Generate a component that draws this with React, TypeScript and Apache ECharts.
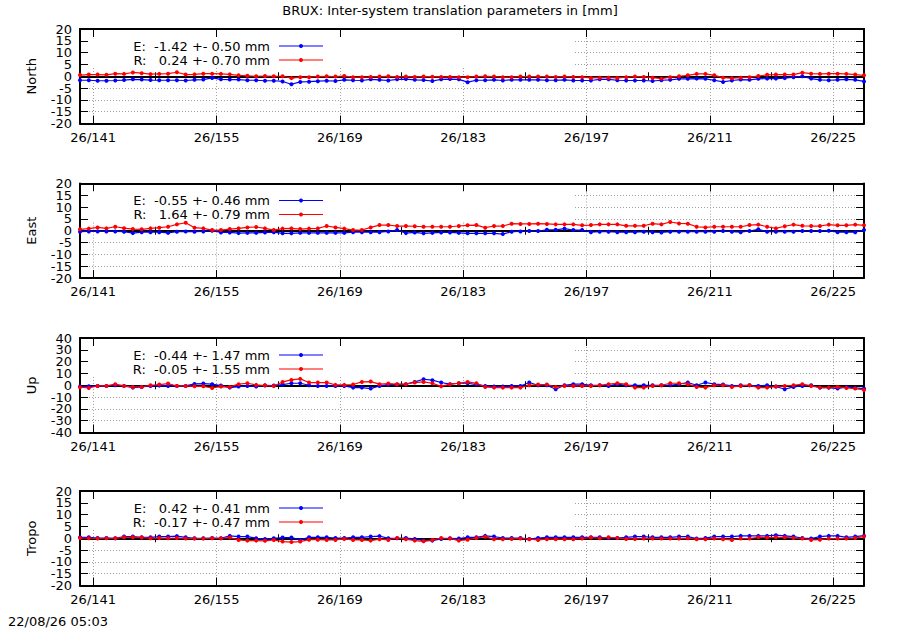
import React, { useEffect, useRef } from 'react';
import * as echarts from 'echarts';

const TITLE = 'BRUX: Inter-system translation parameters in [mm]';
const TIMESTAMP = '22/08/26 05:03';
const YEAR = '26';
const FONT = 'DejaVu Sans';

// daily solutions, noon of each day of year
const FIRST_DAY = 139.5;
const LAST_DAY = 228.5;
const DAYS = Array.from({ length: 90 }, (_, i) => FIRST_DAY + i);
const MAJOR_DAYS = [141, 155, 169, 183, 197, 211, 225];
const MINOR_DAYS = [148, 162, 176, 190, 204, 218];

const PANEL_NAMES = ['North', 'East', 'Up', 'Tropo'];
const TICKS_20 = [-20, -15, -10, -5, 0, 5, 10, 15, 20];
const TICKS_40 = [-40, -30, -20, -10, 0, 10, 20, 30, 40];
const PANEL_TICKS = [TICKS_20, TICKS_20, TICKS_40, TICKS_20];

const E_LABELS = ['E:  -1.42 +- 0.50 mm', 'E:  -0.55 +- 0.46 mm', 'E:  -0.44 +- 1.47 mm', 'E:   0.42 +- 0.41 mm'];
const R_LABELS = ['R:   0.24 +- 0.70 mm', 'R:   1.64 +- 0.79 mm', 'R:  -0.05 +- 1.55 mm', 'R:  -0.17 +- 0.47 mm'];

const NORTH_E = [
  -1.7, -1.7, -1.9, -1.9, -1.8, -1.6, -1.3, -1.4, -1.6, -1.7, -1.7, -1.7, -1.8, -1.5, -1.4, -0.7, -1.3, -1.4, -1.4, -1.7,
  -1.7, -1.9, -1.9, -2.2, -3.4, -2.4, -2.3, -2.1, -1.9, -2.0, -1.5, -1.7, -1.8, -1.3, -1.5, -1.8, -1.3, -1.2, -1.5, -1.6,
  -2.0, -1.3, -1.2, -1.3, -2.5, -1.7, -1.7, -1.5, -1.8, -1.5, -1.5, -1.5, -1.5, -1.7, -1.7, -1.5, -1.8, -1.8, -1.8, -1.3,
  -1.3, -1.7, -1.8, -1.8, -1.8, -2.0, -1.7, -1.5, -1.1, -1.1, -1.0, -1.1, -1.7, -2.4, -1.8, -1.4, -1.5, -1.1, -1.0, -1.0,
  -0.8, -0.4, 0.0, -1.0, -1.5, -1.7, -1.5, -1.3, -1.5, -2.2,
];
const NORTH_R = [
  0.5, 0.7, 0.7, 0.6, 1.1, 1.0, 1.6, 1.3, 0.9, 1.0, 1.1, 1.7, 0.7, 0.8, 1.1, 1.1, 1.0, 0.8, 0.4, 0.2,
  0.0, 0.1, 0.0, 0.0, -0.8, -0.4, -0.4, -0.1, 0.0, -0.1, 0.1, -0.4, -0.4, -0.3, -0.1, 0.0, -0.3, -0.1, -0.3, -0.1,
  -0.2, -0.3, -0.3, -0.4, -0.4, -0.1, 0.0, -0.1, -0.4, -0.4, -0.1, -0.1, -0.1, -0.1, -0.3, -0.1, -0.3, -0.4, -0.7, -0.6,
  -0.6, -0.7, -0.4, -0.1, -0.3, -0.6, -1.0, -0.4, 0.0, 0.4, 1.0, 1.0, 0.4, -0.6, -0.8, -0.6, -0.4, 0.1, 0.6, 0.7,
  0.7, 0.7, 1.5, 1.1, 1.0, 1.1, 1.1, 1.0, 0.7, 0.4,
];
const EAST_E = [
  -0.4, -0.3, -0.3, -0.3, -0.3, -0.4, -1.0, -0.6, -0.6, -0.6, -0.9, -0.4, -0.3, -0.4, -0.3, 0.0, -0.7, -0.7, -1.0, -0.9,
  -0.9, -0.7, -0.6, -1.1, -1.1, -0.9, -0.9, -0.9, -0.9, -0.9, -0.9, -0.6, -0.6, -0.6, -0.6, -0.3, 0.3, -1.0, -0.7, -1.1,
  -0.9, -0.7, -0.7, -0.9, -1.1, -1.1, -1.1, -1.1, -1.4, -0.4, -0.3, -0.1, -0.1, 0.4, 0.4, 0.9, 0.3, 0.3, -0.6, -0.4,
  -0.4, -0.6, -0.6, -0.6, -0.4, -0.6, -0.7, -0.4, -0.4, -0.4, -0.4, -0.4, -0.4, -0.1, -0.4, -0.6, -0.1, 0.6, -0.4, -0.4,
  -0.4, -0.4, -0.1, -0.1, -0.1, 0.0, -0.6, -0.6, -0.6, 0.3,
];
const EAST_R = [
  0.6, 0.9, 1.4, 1.0, 1.7, 1.1, 0.7, 0.6, 1.0, 1.3, 1.7, 2.7, 3.4, 1.3, 1.0, 0.3, 0.3, 0.7, 1.0, 1.4,
  1.6, 1.0, 0.3, 0.9, 1.0, 0.7, 0.9, 1.0, 2.0, 1.4, 0.9, 0.3, 0.3, 1.4, 2.4, 2.4, 2.0, 2.0, 1.9, 1.7,
  1.7, 1.7, 1.7, 2.0, 2.3, 2.4, 1.3, 2.0, 2.0, 3.0, 2.9, 2.9, 3.0, 2.9, 2.7, 2.7, 2.7, 2.3, 2.4, 2.7,
  2.7, 2.7, 2.1, 2.1, 2.1, 3.0, 2.7, 3.7, 3.1, 3.0, 1.7, 1.4, 1.7, 1.7, 1.7, 1.7, 2.4, 2.6, 1.7, 1.0,
  1.9, 2.6, 2.1, 2.0, 2.0, 2.6, 2.3, 2.3, 2.6, 2.3,
];
const UP_E = [
  -1.1, -0.9, -0.6, -0.6, 0.0, -0.6, -2.0, -1.4, -0.6, -0.3, -0.6, -0.6, -0.6, 1.1, 1.4, 0.9, -0.3, -2.0, -1.1, -0.6,
  -1.1, 0.0, -0.3, 0.6, 1.7, 1.7, 0.0, -0.6, -0.6, -0.6, -0.6, -2.0, -2.0, -2.8, -0.6, 0.6, 0.6, 0.9, 2.8, 5.1,
  4.3, 2.3, 0.9, 1.7, 1.7, 0.6, -0.6, -1.1, -1.1, -0.6, -0.6, 2.3, 0.0, 0.0, -3.4, 0.0, 0.9, 0.9, 0.0, 0.0,
  -0.6, 0.9, 0.0, 0.0, 0.0, 0.0, 0.0, 0.0, 0.9, 2.3, 0.0, 2.3, 0.9, 0.6, -0.6, 0.0, 0.0, -0.6, 0.0, -1.1,
  -3.4, -1.4, -0.6, 0.0, -2.0, -2.0, -2.8, -1.4, -2.3, -2.8,
];
const UP_R = [
  -1.7, -2.3, -0.6, -0.6, 0.9, -0.6, -1.4, -1.4, 0.0, 0.6, 1.4, -0.6, -0.6, -0.9, -0.9, -2.3, -1.1, -1.4, 0.9, 1.7,
  0.3, -0.3, -0.6, 2.8, 4.5, 5.4, 2.3, 2.3, 2.3, 0.3, 0.3, 0.6, 2.8, 3.1, 0.9, 1.4, 0.9, 0.9, 2.3, 2.8,
  1.7, -0.9, 0.9, 1.7, 2.8, 1.7, -1.4, -2.0, -2.0, -2.0, -2.0, 0.0, 0.6, 0.6, -1.4, -0.6, -0.6, -0.6, -0.6, 0.0,
  0.9, 1.7, 0.9, -2.0, -2.0, -0.6, 0.0, 1.7, 1.7, 0.9, -1.4, -2.0, 0.0, 0.0, -1.4, -0.6, 0.0, -2.0, -2.0, -1.1,
  -0.6, 0.0, 0.9, -0.6, -2.0, -2.0, -1.4, -2.3, -2.8, -4.0,
];
const TROPO_E = [
  0.4, 0.4, 0.1, 0.1, 0.0, 0.7, 0.7, 0.4, 0.4, 0.7, 0.7, 0.9, 0.4, 0.0, 0.0, 0.1, 0.0, 1.0, 0.7, 0.7,
  0.0, -0.3, 0.0, 0.3, 0.3, -0.7, 0.4, 0.4, 0.4, 0.1, 0.1, 0.4, 0.4, 0.7, 0.9, 0.0, 0.0, 0.1, -0.3, -1.0,
  -1.0, -0.3, 0.0, -0.1, 0.4, 0.4, 1.0, 0.7, 0.1, 0.1, 0.1, -0.3, 0.1, 0.4, 0.4, 0.4, 0.4, 0.4, 0.4, 0.4,
  0.1, 0.1, 0.4, 0.7, 0.7, 0.4, 0.4, 0.4, 0.7, 0.7, -0.1, 0.1, 0.7, 0.7, 0.7, 1.0, 1.0, 1.0, 1.0, 1.3,
  1.0, 0.7, 0.1, -0.1, 0.7, 1.0, 1.0, 0.4, 0.7, 1.1,
];
const TROPO_R = [
  0.1, 0.0, -0.1, 0.0, 0.0, 0.4, 0.4, 0.3, 0.0, 0.1, 0.0, 0.1, -0.1, -0.1, -0.1, 0.0, 0.0, 0.3, -0.7, -1.0,
  -1.0, -1.1, -0.7, -1.4, -1.6, -1.4, -0.6, -0.6, -0.7, -0.7, -0.3, -0.7, -0.7, -1.0, -0.4, -0.7, 0.1, -0.4, -1.0, -1.3,
  -0.7, 0.1, -0.1, -1.0, -0.6, 0.1, 0.6, -0.4, -0.4, -0.3, -0.1, -0.4, -0.7, -0.4, -0.4, -0.4, -0.4, -0.1, 0.3, 0.0,
  0.4, 0.1, -0.3, -0.3, -0.1, -0.1, -0.1, -0.1, -0.1, 0.0, -0.4, -0.4, -0.1, -0.4, -0.7, -0.1, -0.1, 0.4, 0.3, 0.4,
  0.4, 0.1, -0.1, -0.7, -0.6, -0.1, -0.1, -0.1, 0.1, 0.7,
];

const E_SERIES = [NORTH_E, EAST_E, UP_E, TROPO_E];
const R_SERIES = [NORTH_R, EAST_R, UP_R, TROPO_R];

const E_COLOR = '#0000ff';
const R_COLOR = '#ff0000';

// layout of the four plot boxes
const PLOT_LEFT = 80;
const PLOT_WIDTH = 784;
const PANEL_TOPS = [29, 183.5, 338, 491];
const PANEL_HEIGHT = 94.5;

const App: React.FC = () => {
  const chartRef = useRef<HTMLDivElement>(null);

  useEffect(() => {
    if (!chartRef.current) return;
    const chart = echarts.init(chartRef.current, undefined, { renderer: 'svg' });

    const gridLine = { show: true, lineStyle: { color: '#a0a0a0', width: 1, type: [1, 2] } };
    const border = { show: true, onZero: false, lineStyle: { color: '#000', width: 2 } };
    const tickStyle = { color: '#000', width: 1 };
    const labelStyle = { color: '#000', fontSize: 13, fontFamily: FONT };

    const grids: any[] = [];
    const xAxes: any[] = [];
    const yAxes: any[] = [];
    const series: any[] = [];
    const graphics: any[] = [];

    PANEL_NAMES.forEach((name, p) => {
      const top = PANEL_TOPS[p];
      const ticks = PANEL_TICKS[p];
      // labels are packed tighter than ECharts allows on one axis, so split them over two
      const evenTicks = ticks.filter((_, i) => i % 2 === 0);
      const oddTicks = ticks.filter((_, i) => i % 2 === 1);
      grids.push({ left: PLOT_LEFT, top, width: PLOT_WIDTH, height: PANEL_HEIGHT, outerBoundsMode: 'none' });

      const xBase = { type: 'value', gridIndex: p, min: FIRST_DAY, max: LAST_DAY };
      // bottom: major ticks with labels and grid
      xAxes.push({
        ...xBase,
        position: 'bottom',
        axisLine: border,
        axisTick: { show: true, inside: true, length: 8, customValues: MAJOR_DAYS, lineStyle: tickStyle },
        axisLabel: {
          show: true, customValues: MAJOR_DAYS, formatter: (v: number) => `${YEAR}/${v}`,
          ...labelStyle, margin: 7,
        },
        splitLine: gridLine,
      });
      // bottom minor ticks
      xAxes.push({
        ...xBase,
        position: 'bottom',
        axisLine: { show: false },
        axisTick: { show: true, inside: true, length: 4, customValues: MINOR_DAYS, lineStyle: tickStyle },
        axisLabel: { show: false },
        splitLine: { show: false },
      });
      // mirrored top ticks
      xAxes.push({
        ...xBase,
        position: 'top',
        axisLine: border,
        axisTick: { show: true, inside: true, length: 8, customValues: MAJOR_DAYS, lineStyle: tickStyle },
        axisLabel: { show: false },
        splitLine: { show: false },
      });
      xAxes.push({
        ...xBase,
        position: 'top',
        axisLine: { show: false },
        axisTick: { show: true, inside: true, length: 4, customValues: MINOR_DAYS, lineStyle: tickStyle },
        axisLabel: { show: false },
        splitLine: { show: false },
      });

      const yBase = { type: 'value', gridIndex: p, min: ticks[0], max: ticks[ticks.length - 1] };
      yAxes.push({
        ...yBase,
        position: 'left',
        name,
        nameLocation: 'middle',
        nameRotate: 90,
        nameGap: 42,
        nameTextStyle: labelStyle,
        axisLine: border,
        axisTick: { show: true, inside: true, length: 8, customValues: ticks, lineStyle: tickStyle },
        axisLabel: {
          customValues: evenTicks, ...labelStyle, margin: 8,
          showMinLabel: true, showMaxLabel: true, hideOverlap: false,
        },
        splitLine: gridLine,
      });
      yAxes.push({
        ...yBase,
        position: 'right',
        axisLine: border,
        axisTick: { show: true, inside: true, length: 8, customValues: ticks, lineStyle: tickStyle },
        axisLabel: { show: false },
        splitLine: { show: false },
      });
      yAxes.push({
        ...yBase,
        position: 'left',
        axisLine: { show: false },
        axisTick: { show: false, customValues: oddTicks },
        axisLabel: { customValues: oddTicks, ...labelStyle, margin: 8, hideOverlap: false },
        splitLine: { show: false },
      });

      const common = {
        type: 'line',
        xAxisIndex: p * 4,
        yAxisIndex: p * 3,
        symbol: 'circle',
        symbolSize: 4,
        showSymbol: true,
        animation: false,
      };
      series.push({
        ...common,
        name: E_LABELS[p],
        data: DAYS.map((d, i) => [d, E_SERIES[p][i]]),
        lineStyle: { color: E_COLOR, width: 1.2 },
        itemStyle: { color: E_COLOR },
        markLine: {
          silent: true,
          z: 1,
          symbol: ['none', 'none'],
          label: { show: false },
          lineStyle: { color: '#000', width: 2, type: 'solid' },
          data: [{ yAxis: 0 }],
        },
      });
      series.push({
        ...common,
        name: R_LABELS[p],
        data: DAYS.map((d, i) => [d, R_SERIES[p][i]]),
        lineStyle: { color: R_COLOR, width: 1.2 },
        itemStyle: { color: R_COLOR },
      });

      // opaque key box, like gnuplot's
      graphics.push({
        type: 'rect', z: 1,
        shape: { x: PLOT_LEFT + 9, y: top + 8, width: 484, height: 30 },
        style: { fill: '#fff' },
      });
      [E_LABELS[p], R_LABELS[p]].forEach((label, k) => {
        const color = k === 0 ? E_COLOR : R_COLOR;
        const y = top + 17 + k * 14;
        graphics.push({
          type: 'text', z: 5, x: 270, y,
          style: { text: label, fill: '#000', fontSize: 13, fontFamily: FONT, align: 'right', verticalAlign: 'middle' },
        });
        graphics.push({
          type: 'line', z: 5,
          shape: { x1: 279, y1: y, x2: 323, y2: y },
          style: { stroke: color, lineWidth: 1.2 },
        });
        graphics.push({
          type: 'circle', z: 6,
          shape: { cx: 301, cy: y, r: 2 },
          style: { fill: color },
        });
      });
    });

    chart.setOption({
      animation: false,
      backgroundColor: '#fff',
      textStyle: { fontFamily: FONT },
      title: [
        {
          text: TITLE, left: 'center', top: 4, padding: 0,
          textStyle: { fontSize: 13, fontWeight: 'normal', color: '#000', fontFamily: FONT },
        },
        {
          text: TIMESTAMP, left: 8, top: 615, padding: 0,
          textStyle: { fontSize: 13, fontWeight: 'normal', color: '#000', fontFamily: FONT },
        },
      ],
      grid: grids,
      xAxis: xAxes,
      yAxis: yAxes,
      series,
      graphic: graphics,
    });

    return () => {
      chart.dispose();
    };
  }, []);

  return (
    <div
      ref={chartRef}
      style={{ position: 'absolute', left: 0, top: 0, width: '900px', height: '630px' }}
    />
  );
};

export default App;
